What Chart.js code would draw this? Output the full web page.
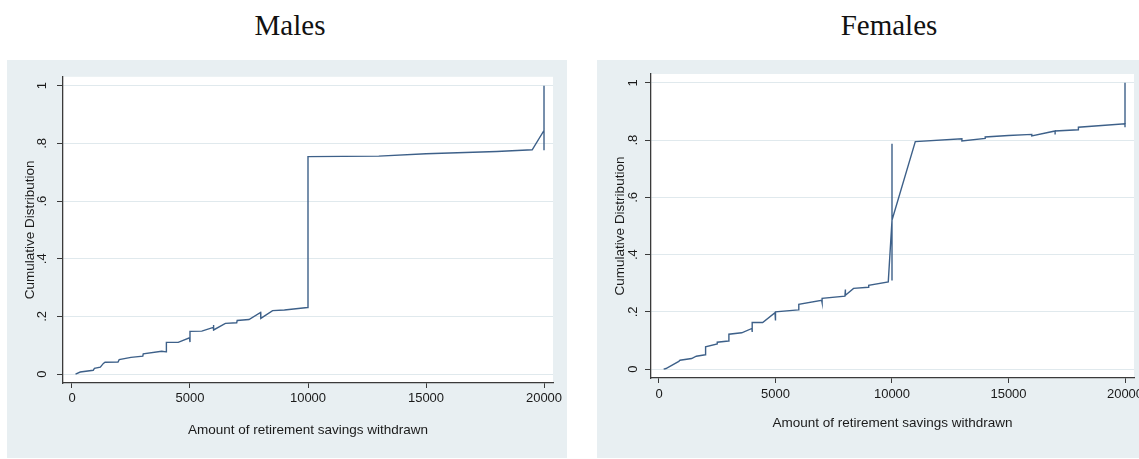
<!DOCTYPE html>
<html>
<head>
<meta charset="utf-8">
<script src="https://cdn.jsdelivr.net/npm/chart.js@4"></script>
<style>
  html, body { margin: 0; padding: 0; background: #fff; overflow: hidden; }
  body { width: 1139px; height: 459px; position: relative; }
  .title { position: absolute; top: 9px; font-family: "Liberation Serif", "Times New Roman", serif; font-size: 29px; color: #111; transform: translateX(-50%); white-space: nowrap; }
  .panel { position: absolute; top: 60px; height: 398px; width: 560px; background: #e8eff2; }
</style>
</head>
<body>
<div class="title" style="left:290px">Males</div>
<div class="title" style="left:889px">Females</div>
<div class="panel" style="left:7px"><canvas id="chart-males"></canvas></div>
<div class="panel" style="left:597px"><canvas id="chart-females"></canvas></div>
<script>
// ─── data ───────────────────────────────────────────────────────────────────
const xTicks = [0, 5000, 10000, 15000, 20000];
const yTicks = [0, 0.2, 0.4, 0.6, 0.8, 1];
const yTickLabels = ['0', '.2', '.4', '.6', '.8', '1'];
const xTitle = 'Amount of retirement savings withdrawn';
const yTitle = 'Cumulative Distribution';

const maleX = [150, 350, 900, 950, 1200, 1330, 1400, 1950, 2000, 2500, 3000, 3020, 3800, 3990, 4000, 4500,
  4980, 5000, 5000, 5500, 5990, 6000, 6000, 6500, 6980, 7000, 7500, 7990, 8000, 8500, 9000, 9980,
  10000, 10000, 13000, 15000, 18000, 19500, 20000, 20000, 20000];
const maleY = [0, .007, .013, .02, .024, .037, .041, .042, .05, .058, .062, .07, .079, .077, .11, .11,
  .126, .111, .148, .149, .162, .17, .153, .176, .178, .186, .189, .214, .193, .22, .222, .231,
  .231, .754, .756, .764, .772, .778, .845, .776, 1.0];

const femaleX = [200, 300, 850, 900, 1400, 1600, 1990, 2000, 2500, 2500, 2980, 3000, 3550, 3990, 4000, 4000,
  4450, 4980, 5000, 5000, 5980, 6000, 6000, 6980, 7000, 7000, 7980, 8000, 8000, 8350, 8990, 9000, 9840,
  10000, 10000, 10000, 10000, 11000, 13000, 13000, 14000, 14000, 15000, 16000, 16000, 17000, 17000, 17000,
  18000, 18000, 20000, 20000, 20000];
const femaleY = [0, .002, .027, .031, .037, .045, .05, .078, .088, .094, .098, .122, .127, .142, .13, .163,
  .163, .197, .17, .2, .207, .21, .226, .24, .232, .247, .255, .278, .258, .282, .286, .293, .305,
  .52, .787, .31, .52, .795, .805, .797, .806, .811, .816, .82, .815, .832, .82, .832,
  .836, .845, .857, .845, 1.0];

// ─── style ─────────────────────────────────────────────────────────────────
const C = {
  line: '#3d6089',
  axis: '#3a3a3a',
  grid: '#e0e9ed',
  text: '#1a1a1a',
};
const FONT = 'Arial, "Liberation Sans", sans-serif';

const plotBg = {
  id: 'plotBg',
  beforeDraw(chart) {
    const { ctx, chartArea: a } = chart;
    ctx.save();
    ctx.fillStyle = '#ffffff';
    ctx.fillRect(a.left, a.top, a.right - a.left, a.bottom - a.top);
    ctx.restore();
  },
};

function makeCdf(id, xs, ys, g) {
  const canvas = document.getElementById(id);
  canvas.width = g.w; canvas.height = 398;
  canvas.style.width = g.w + 'px'; canvas.style.height = '398px';
  const data = xs.map((x, i) => ({ x, y: ys[i] }));
  return new Chart(canvas.getContext('2d'), {
    type: 'line',
    data: { datasets: [{ data, borderColor: C.line, borderWidth: 1.4, pointRadius: 0, tension: 0, fill: false }] },
    options: {
      responsive: false, animation: false, devicePixelRatio: 1,
      layout: { padding: { left: 0, top: 14, right: g.padRight, bottom: 0 } },
      plugins: { legend: { display: false }, tooltip: { enabled: false } },
      scales: {
        x: {
          type: 'linear', min: g.xMin, max: g.xMax,
          afterBuildTicks: s => { s.ticks = xTicks.map(v => ({ value: v })); },
          afterFit: s => { s.height = g.xH; },
          grid: { drawOnChartArea: false, drawTicks: true, tickLength: 5, tickColor: C.axis, tickWidth: 1 },
          border: { display: true, color: C.axis, width: 1.3 },
          ticks: { color: C.text, font: { family: FONT, size: 13 }, padding: g.xTickPad, maxRotation: 0, autoSkip: false,
                   callback: v => String(v) },
          title: { display: true, text: xTitle, color: C.text, font: { family: FONT, size: 13.5 },
                   padding: { top: 0, bottom: g.xTitlePad } },
        },
        y: {
          type: 'linear', min: -0.031, max: 1.031,
          afterBuildTicks: s => { s.ticks = yTicks.map(v => ({ value: v })); },
          afterFit: s => { s.width = g.yW; },
          grid: { color: C.grid, lineWidth: 1, drawTicks: true, tickLength: 6, tickColor: C.axis, tickWidth: 1 },
          border: { display: true, color: C.axis, width: 1.3 },
          ticks: { color: C.text, font: { family: FONT, size: 13 }, padding: g.yTickPad, minRotation: 90, maxRotation: 90,
                   crossAlign: 'center', autoSkip: false,
                   callback: (v, i) => yTickLabels[i] },
          title: { display: true, text: yTitle, color: C.text, font: { family: FONT, size: 13.5 },
                   padding: { top: g.yTitlePad, bottom: 0 } },
        },
      },
    },
    plugins: [plotBg],
  });
}

makeCdf('chart-males', maleX, maleY, {
  w: 560, padRight: 14, xH: 75, yW: 56, xMin: -381, xMax: 20381,
  xTickPad: 3, xTitlePad: 20, yTickPad: 9, yTitlePad: 15,
});
makeCdf('chart-females', femaleX, femaleY, {
  w: 560, padRight: 23, xH: 80, yW: 54, xMin: -343, xMax: 20386,
  xTickPad: 4, xTitlePad: 27, yTickPad: 6, yTitlePad: 15,
});
</script>
</body>
</html>
